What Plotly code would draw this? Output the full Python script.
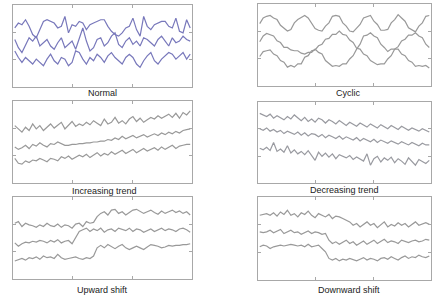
import plotly.graph_objects as go

# ---------------- data (0-100 vertical units) ----------------
titles = ["Normal", "Cyclic", "Increasing trend", "Decreasing trend", "Upward shift", "Downward shift"]

normal_top = [72,78,76,82,74,64,60,70,80,82,80,78,72,74,86,66,76,74,80,78,70,76,78,80,82,82,74,68,64,62,
              66,72,74,84,70,62,86,74,70,76,78,80,80,74,72,84,68,66,82,72]
normal_mid = [58,48,42,52,60,56,62,50,54,58,50,46,54,60,48,52,56,46,58,72,56,44,48,58,60,50,54,62,66,52,
              48,56,60,52,56,50,60,58,54,50,58,62,56,50,60,54,56,62,58,56]
normal_bot = [44,36,30,36,32,28,34,30,26,34,40,32,28,36,34,26,30,44,42,34,28,36,32,40,36,30,38,42,36,32,
              28,36,40,36,28,24,32,38,42,32,28,34,38,42,40,34,38,42,34,40]

cyclic_top = [76,83,85,86,83,81,74,70,67,69,77,81,84,86,83,77,70,68,67,73,77,85,86,85,77,73,67,66,71,75,
              83,85,86,79,75,68,68,69,77,81,87,83,79,71,69,66,73,77,85,86]
cyclic_mid = [54,61,64,62,61,55,53,47,47,44,43,43,40,39,41,41,45,41,39,31,28,24,25,24,27,27,33,37,45,51,
              61,62,65,61,59,51,47,42,45,45,45,39,37,31,29,24,25,24,25,22]
cyclic_bot = [36,42,43,44,39,37,31,29,23,25,23,27,27,35,37,43,44,49,51,57,58,63,63,67,63,62,56,53,46,45,
              39,37,31,29,26,27,27,33,37,45,48,55,57,62,62,65,61,59,51,47]

inc_top = [70,66,62,68,64,72,66,70,64,68,72,67,70,74,66,71,75,69,72,70,74,71,76,73,70,78,72,74,80,73,
           76,72,78,81,75,79,74,77,80,78,82,79,81,84,80,85,79,86,83,88]
inc_mid = [44,41,43,46,42,47,45,49,46,44,48,47,50,48,46,46,47,47,48,48,49,49,50,50,51,51,53,52,55,53,
           57,54,56,58,55,57,59,56,58,60,58,61,59,62,60,63,61,64,65,66]
inc_bot = [30,24,23,27,25,28,27,30,28,26,30,29,27,32,30,33,29,31,34,32,35,31,34,37,33,36,34,38,35,37,
           40,36,38,41,37,40,42,39,41,43,40,44,41,43,46,42,45,46,47,47]

dec_top = [86,84,82,85,80,83,81,78,82,79,84,80,77,81,76,79,75,80,78,74,78,76,73,77,74,71,75,73,70,74,
           71,69,73,70,68,72,69,67,71,68,66,70,67,65,68,66,64,67,65,63]
dec_mid = [67,65,68,64,66,63,65,61,64,62,60,63,59,62,58,61,60,57,60,56,59,57,55,58,54,57,55,53,56,52,
           55,53,51,54,50,53,51,49,52,50,48,51,49,47,50,48,46,49,47,47]
dec_bot = [43,41,44,40,50,39,42,38,46,37,41,36,39,35,40,34,28,38,33,37,32,36,30,35,33,31,34,29,32,30,
           27,36,22,30,33,26,31,28,32,25,30,27,23,31,26,22,29,27,24,28]

up_top = [68,70,64,68,66,65,63,66,64,68,65,64,67,63,66,65,62,67,68,64,70,68,69,76,80,82,78,84,85,80,
          82,78,81,84,85,83,80,82,84,81,79,83,80,82,84,81,83,80,82,78]
up_mid = [44,40,43,45,44,46,45,47,46,44,47,45,48,44,46,47,43,50,58,60,62,58,61,59,62,57,60,61,58,62,
          60,59,62,58,61,60,57,59,61,58,60,62,59,61,60,58,61,62,60,57]
up_bot = [22,24,25,23,26,25,27,24,28,26,27,25,30,26,24,25,26,27,25,24,26,25,28,38,41,38,42,39,37,40,
          42,38,36,38,40,38,36,39,42,41,40,38,39,41,40,41,41,42,42,43]

down_top = [78,79,80,78,81,77,82,79,84,78,80,76,81,79,83,78,75,80,78,76,79,74,77,76,74,72,70,66,68,64,
            67,70,66,68,63,66,70,64,67,65,69,66,68,64,67,70,66,68,69,67]
down_mid = [58,57,58,60,57,59,61,56,58,60,57,58,55,57,59,56,58,57,55,56,48,44,46,43,45,48,44,46,42,45,
            47,43,46,48,44,46,49,45,47,46,44,48,46,45,47,48,46,47,49,48]
down_bot = [40,42,41,38,40,41,42,41,42,43,42,41,42,40,43,40,41,42,38,34,26,24,26,23,25,24,26,24,23,25,
            27,24,26,25,23,26,27,25,28,26,24,27,29,26,28,27,30,28,27,29]

panels = [
    [normal_top, normal_mid, normal_bot],
    [cyclic_top, cyclic_mid, cyclic_bot],
    [inc_top, inc_mid, inc_bot],
    [dec_top, dec_mid, dec_bot],
    [up_top, up_mid, up_bot],
    [down_top, down_mid, down_bot],
]
xtick_vals = [16, 33]
ytick_vals = [33, 67]

# ---------------- layout geometry (pixels) ----------------
W, H = 432, 299
boxes = [  # x0, x1, y0(top), y1(bottom)
    (13, 192, 5, 87),
    (258, 431, 4, 86),
    (13, 192, 101, 183),
    (258, 431, 102, 183),
    (13, 192, 197, 279),
    (258, 431, 197, 280),
]
title_pos = [(102, 93), (348, 93), (104, 191), (344, 190), (102, 290), (349, 290)]

colors = ["#7878bb", "#999999", "#999999", "#999aa0", "#999999", "#999999"]

fig = go.Figure()
for k, series in enumerate(panels):
    xa = "x" if k == 0 else f"x{k+1}"
    ya = "y" if k == 0 else f"y{k+1}"
    for s in series:
        fig.add_trace(go.Scatter(
            x=list(range(len(s))), y=s, mode="lines",
            line=dict(color=colors[k], width=1.2),
            xaxis=xa, yaxis=ya, showlegend=False, hoverinfo="skip"))
    x0, x1, y0, y1 = boxes[k]
    axcommon = dict(showline=True, mirror="ticks", linecolor="#a8a8a8", linewidth=1,
                    showgrid=False, zeroline=False, ticks="inside", ticklen=3,
                    tickcolor="#a8a8a8", showticklabels=False, fixedrange=True)
    xname = "xaxis" if k == 0 else f"xaxis{k+1}"
    yname = "yaxis" if k == 0 else f"yaxis{k+1}"
    fig.update_layout(**{
        xname: dict(domain=[x0 / W, x1 / W], range=[-0.5, 49.5], tickvals=xtick_vals,
                    anchor=ya, **axcommon),
        yname: dict(domain=[1 - y1 / H, 1 - y0 / H], range=[0, 100], tickvals=ytick_vals,
                    anchor=xa, **axcommon),
    })
    tx, ty = title_pos[k]
    fig.add_annotation(text=titles[k], x=tx / W, y=1 - ty / H, xref="paper", yref="paper",
                       showarrow=False, xanchor="center", yanchor="middle",
                       font=dict(family="Liberation Sans, Arial, sans-serif", size=9, color="#222222"))

fig.update_layout(width=W, height=H, margin=dict(l=0, r=0, t=0, b=0),
                  paper_bgcolor="white", plot_bgcolor="white")
fig.write_html("out.html", config={"displayModeBar": False},
               post_script="document.body.style.margin='0';document.body.style.overflow='hidden';")
